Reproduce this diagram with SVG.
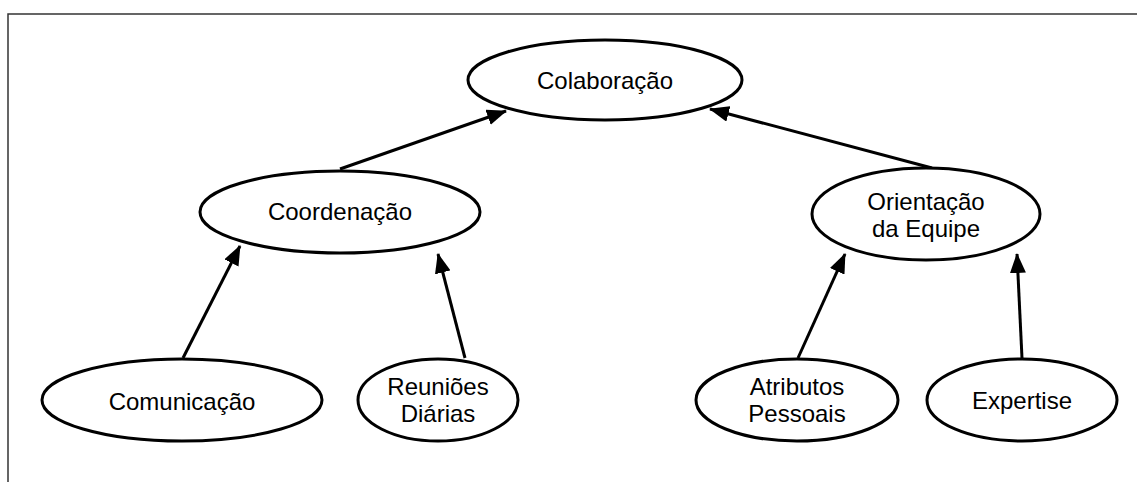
<svg xmlns="http://www.w3.org/2000/svg" width="1137" height="482" viewBox="0 0 1137 482">
  <style>
    .node ellipse { fill: #ffffff; stroke: #000000; stroke-width: 3; }
    .node text { font-family: "Liberation Sans", Arial, sans-serif; font-size: 24px; fill: #000000; text-anchor: middle; }
    .edge { stroke: #000000; stroke-width: 3; fill: none; marker-end: url(#arrow); }
    .frame { stroke: #333333; stroke-width: 1.5; fill: none; }
  </style>
  <defs>
    <marker id="arrow" markerUnits="userSpaceOnUse" markerWidth="20" markerHeight="16" viewBox="0 0 20 16" refX="19" refY="8" orient="auto">
      <path d="M0,0 L20,8 L0,16 Z" fill="#000000"/>
    </marker>
  </defs>
  <rect width="1137" height="482" fill="#ffffff"/>
  <path class="frame" d="M8,482 L8,14 L1137,14"/>

  <g id="connectors">
    <line class="edge" x1="340" y1="169" x2="506" y2="111"/>
    <line class="edge" x1="932" y1="168" x2="710" y2="109"/>
    <line class="edge" x1="183" y1="358" x2="240" y2="246"/>
    <line class="edge" x1="465" y1="358" x2="438" y2="254"/>
    <line class="edge" x1="798" y1="358" x2="845" y2="254"/>
    <line class="edge" x1="1022" y1="358" x2="1017" y2="254"/>
  </g>

  <g id="colaboracao" class="node">
    <ellipse cx="605" cy="80" rx="137" ry="40"/>
    <text x="605" y="89">Colaboração</text>
  </g>
  <g id="coordenacao" class="node">
    <ellipse cx="340" cy="212" rx="140" ry="41"/>
    <text x="340" y="220">Coordenação</text>
  </g>
  <g id="orientacao" class="node">
    <ellipse cx="926" cy="214" rx="114" ry="46"/>
    <text x="926" y="210">Orientação</text>
    <text x="926" y="237">da Equipe</text>
  </g>
  <g id="comunicacao" class="node">
    <ellipse cx="182" cy="400" rx="140" ry="41"/>
    <text x="182" y="410">Comunicação</text>
  </g>
  <g id="reunioes" class="node">
    <ellipse cx="438" cy="400" rx="80" ry="41"/>
    <text x="438" y="395">Reuniões</text>
    <text x="438" y="422">Diárias</text>
  </g>
  <g id="atributos" class="node">
    <ellipse cx="797" cy="400" rx="101" ry="41"/>
    <text x="797" y="395">Atributos</text>
    <text x="797" y="422">Pessoais</text>
  </g>
  <g id="expertise" class="node">
    <ellipse cx="1022" cy="400" rx="95" ry="41"/>
    <text x="1022" y="409">Expertise</text>
  </g>
</svg>
